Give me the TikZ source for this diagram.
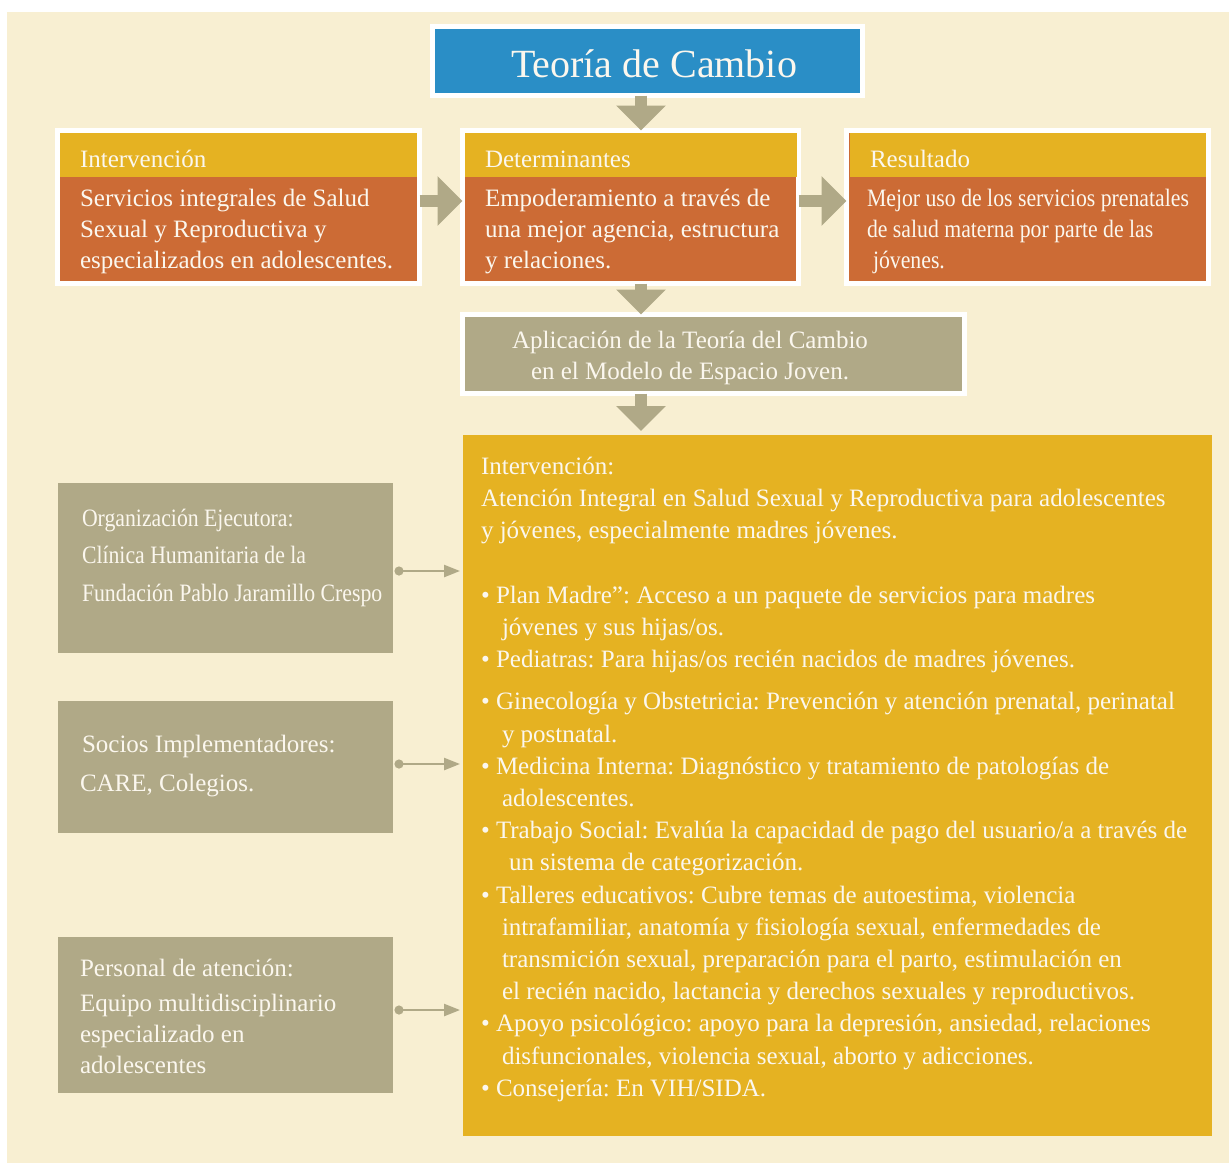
\documentclass[tikz,border=0pt]{standalone}
\usepackage{fontspec}
\setmainfont{Liberation Serif}
\newfontfamily\narrowserif[FakeStretch=0.87]{Liberation Serif}
\usetikzlibrary{arrows.meta, positioning}
\frenchspacing

\definecolor{cream}{HTML}{F8EFD2}
\definecolor{toc}{HTML}{2A8EC6}
\definecolor{gold}{HTML}{E5B222}
\definecolor{rust}{HTML}{CC6B35}
\definecolor{taupe}{HTML}{B0A987}
\definecolor{ivory}{HTML}{FBF7EE}

\newcommand{\sangria}{\hspace*{10.5pt}}

\begin{document}
\begin{tikzpicture}[x=0.5pt, y=-0.5pt, inner sep=0pt, outer sep=0pt,
    txt/.style={text=ivory, font=\fontsize{12.5}{15.5}\selectfont, align=left},
    card/.style={draw=white, line width=2.5pt, fill=rust, minimum height=76.5pt},
    head/.style={fill=gold, minimum height=22pt, inner xsep=10pt, txt, text height=12.6pt, text depth=0pt},
    panel/.style={fill=taupe, minimum width=167.5pt},
    bigarrow/.style={draw=taupe, line width=6pt, -{Triangle[width=24pt, length=12.5pt]}},
    link/.style={draw=taupe, line width=1.2pt, {Circle[length=4.5pt]}-{Triangle[width=6pt, length=8pt]}}]
    \useasboundingbox (0,0) rectangle (1229,1163);
    \fill[white] (0,0) rectangle (1229,1163);
    \fill[cream] (7,12) rectangle (1229,1163);

    \node[draw=white, line width=2.5pt, fill=toc, minimum width=215pt, minimum height=34.5pt,
      text=ivory, font=\fontsize{20}{24}\selectfont, text height=16pt, text depth=0pt] at (647.5,61) (title) {\hspace*{6.5pt}Teoría de Cambio};

    \node[card, minimum width=181pt] at (238.5,207) (interv) {};
    \node[card, minimum width=168pt] at (630.5,207) (determ) {};
    \node[card, minimum width=181pt] at (1027.5,207) (result) {};
    \node[head, text width=158.5pt] at (238.5,155) (intervhead) {Intervención};
    \node[head, text width=146pt] at (631,155) (determhead) {Determinantes};
    \node[head, text width=158pt] at (1028,155) (resulthead) {Resultado};
    \node[txt, anchor=north west] at (80,189) (intervtxt) {Servicios integrales de Salud\\ Sexual y Reproductiva y\\ especializados en adolescentes.};
    \node[txt, anchor=north west] at (485,189) (determtxt) {Empoderamiento a través de\\ una mejor agencia, estructura\\ y relaciones.};
    \node[txt, anchor=north west, font=\narrowserif\fontsize{12.5}{15.5}\selectfont] at (867,189) (resulttxt) {Mejor uso de los servicios prenatales\\ de salud materna por parte de las\\ \hspace*{3pt}jóvenes.};

    \node[draw=white, line width=2.5pt, fill=taupe, minimum width=251pt, minimum height=39.5pt] at (713.5,354) (aplic) {};
    \node[txt, align=center] at (690,358) (aplictxt) {Aplicación de la Teoría del Cambio\\ en el Modelo de Espacio Joven.};

    \node[fill=gold, minimum width=374.5pt, minimum height=350.5pt] at (837.5,785.5) (servicios) {};
    \node[txt, anchor=north west, font=\fontsize{12.5}{16.1}\selectfont] at (481,457) (serviciostxt) {Intervención:\\
      Atención Integral en Salud Sexual y Reproductiva para adolescentes\\
      y jóvenes, especialmente madres jóvenes.\\[16.1pt]
      • Plan Madre”: Acceso a un paquete de servicios para madres\\
      \sangria jóvenes y sus hijas/os.\\
      • Pediatras: Para hijas/os recién nacidos de madres jóvenes.\\[5pt]
      • Ginecología y Obstetricia: Prevención y atención prenatal, perinatal\\
      \sangria y postnatal.\\
      • Medicina Interna: Diagnóstico y tratamiento de patologías de\\
      \sangria adolescentes.\\
      • Trabajo Social: Evalúa la capacidad de pago del usuario/a a través de\\
      \hspace*{14pt}un sistema de categorización.\\
      • Talleres educativos: Cubre temas de autoestima, violencia\\
      \sangria intrafamiliar, anatomía y fisiología sexual, enfermedades de\\
      \sangria transmición sexual, preparación para el parto, estimulación en\\
      \sangria el recién nacido, lactancia y derechos sexuales y reproductivos.\\
      • Apoyo psicológico: apoyo para la depresión, ansiedad, relaciones\\
      \sangria disfuncionales, violencia sexual, aborto y adicciones.\\
      • Consejería: En VIH/SIDA.};

    \node[panel, minimum height=85pt] at (225.5,568) (ejecutora) {};
    \node[panel, minimum height=66pt] at (225.5,767) (socios) {};
    \node[panel, minimum height=78pt] at (225.5,1015) (personal) {};
    \node[txt, anchor=north west, font=\narrowserif\fontsize{12.5}{18.75}\selectfont] at (82,509) (ejecutoratxt) {Organización Ejecutora:\\ Clínica Humanitaria de la\\ Fundación Pablo Jaramillo Crespo};
    \node[txt, anchor=north west, font=\fontsize{12.5}{19.5}\selectfont] at (80,735) (sociostxt) {\hspace*{1pt}Socios Implementadores:\\ CARE, Colegios.};
    \node[txt, anchor=north west] at (80,959) (personaltxt) {Personal de atención:\\[2pt] Equipo multidisciplinario\\ especializado en\\ adolescentes};

    \coordinate (axis) at (641,0);
    \coordinate (row) at (0,201);
    \draw[bigarrow] (title.south -| axis) -- (determ.north -| axis);
    \draw[bigarrow] (interv.east |- row) -- (determ.west |- row);
    \draw[bigarrow] (determ.east |- row) -- (result.west |- row);
    \draw[bigarrow] (determ.south -| axis) -- (aplic.north -| axis);
    \draw[bigarrow, shorten >=2pt] (aplic.south -| axis) -- (servicios.north -| axis);

    \draw[link, shorten <=0.75pt, shorten >=1.5pt] (ejecutora.east |- 0,571) -- (servicios.west |- 0,571);
    \draw[link, shorten <=0.75pt, shorten >=1.5pt] (socios.east |- 0,764) -- (servicios.west |- 0,764);
    \draw[link, shorten <=0.75pt, shorten >=1.5pt] (personal.east |- 0,1010) -- (servicios.west |- 0,1010);
\end{tikzpicture}
\end{document}
